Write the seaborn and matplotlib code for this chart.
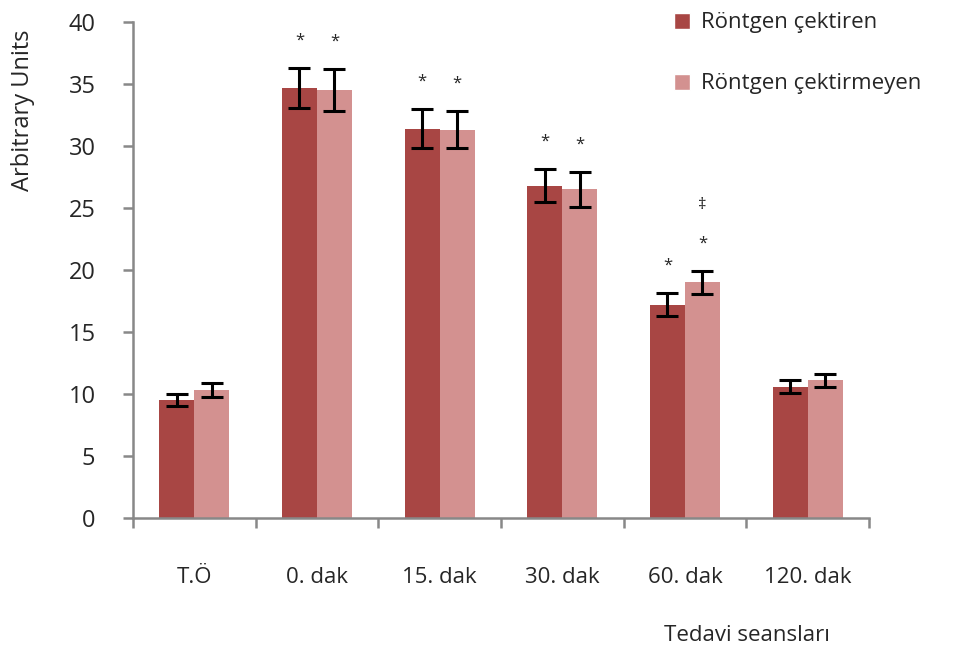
import pandas as pd
import matplotlib
matplotlib.use("Agg")
import matplotlib.pyplot as plt
from matplotlib.patches import Patch
from matplotlib.ticker import FixedLocator
import seaborn as sns

# data
sessions = ["T.Ö", "0. dak", "15. dak", "30. dak", "60. dak", "120. dak"]
groups = ["Röntgen çektiren", "Röntgen çektirmeyen"]
cekitren = [9.5, 34.7, 31.4, 26.8, 17.2, 10.6]
cekitren_err = [0.5, 1.6, 1.6, 1.35, 0.95, 0.5]
cekitmeyen = [10.3, 34.5, 31.3, 26.5, 19.0, 11.1]
cekitmeyen_err = [0.55, 1.7, 1.5, 1.4, 0.95, 0.5]
# significance marks above each bar
marks_cekitren = ["", "*", "*", "*", "*", ""]
marks_cekitmeyen = ["", "*", "*", "*", "*\n‡", ""]

colors = ["#A84644", "#D39190"]

df = pd.DataFrame({
    "seans": sessions * 2,
    "grup": [groups[0]] * 6 + [groups[1]] * 6,
    "deger": cekitren + cekitmeyen,
})

sns.set_style("white")
plt.rcParams["font.family"] = ["Open Sans", "DejaVu Sans"]

fig = plt.figure(figsize=(9.77, 6.54), dpi=100)
ax = fig.add_axes([0.1361, 0.208, 0.7533, 0.7584])

sns.barplot(data=df, x="seans", y="deger", hue="grup", order=sessions,
            hue_order=groups, palette=colors, width=0.57, errorbar=None,
            saturation=1, linewidth=0, ax=ax, legend=False)

errs = [cekitren_err, cekitmeyen_err]
vals = [cekitren, cekitmeyen]
marks = [marks_cekitren, marks_cekitmeyen]
bar_conts = list(ax.containers)
for k, cont in enumerate(bar_conts):
    xs = [b.get_x() + b.get_width() / 2 for b in cont]
    ax.errorbar(xs, vals[k], yerr=errs[k], fmt="none", ecolor="black",
                elinewidth=2.2, capsize=8, capthick=2.2, zorder=3)
    for x, v, e, m in zip(xs, vals[k], errs[k], marks[k]):
        if not m:
            continue
        if "\n" in m:
            ax.text(x, v + e + 2.2, "*", ha="center", va="center", fontsize=12)
            ax.text(x, v + e + 5.3, "‡", ha="center", va="center", fontsize=12)
        else:
            ax.text(x, v + e + 2.2, m, ha="center", va="center", fontsize=12)

ax.set_ylim(0, 40)
ax.set_xlim(-0.5, 5.5)
ax.set_yticks(range(0, 41, 5))
ax.xaxis.set_minor_locator(FixedLocator([i - 0.5 for i in range(7)]))
ax.tick_params(axis="x", which="major", length=0, pad=35, labelsize=16)
ax.tick_params(axis="x", which="minor", bottom=True, length=7, width=1.8,
               color="#888888", direction="out")
ax.tick_params(axis="y", left=True, length=7, width=1.8, color="#888888",
               direction="out", labelsize=17, pad=20)

sns.despine(ax=ax)
for s in ["left", "bottom"]:
    ax.spines[s].set_color("#888888")
    ax.spines[s].set_linewidth(1.8)

ax.set_ylabel("Arbitrary Units", fontsize=17)
ax.yaxis.set_label_coords(-0.133, 0.822)
ax.set_xlabel("Tedavi seansları", fontsize=16)
ax.xaxis.set_label_coords(0.834, -0.215)

handles = [Patch(facecolor=c) for c in colors]
fig.legend(handles, groups, loc="upper left", bbox_to_anchor=(0.678, 0.998),
           frameon=False, fontsize=16, handlelength=0.75, handleheight=0.75,
           handletextpad=0.5, labelspacing=1.8, borderpad=0)

fig.savefig("out.png", dpi=100)
